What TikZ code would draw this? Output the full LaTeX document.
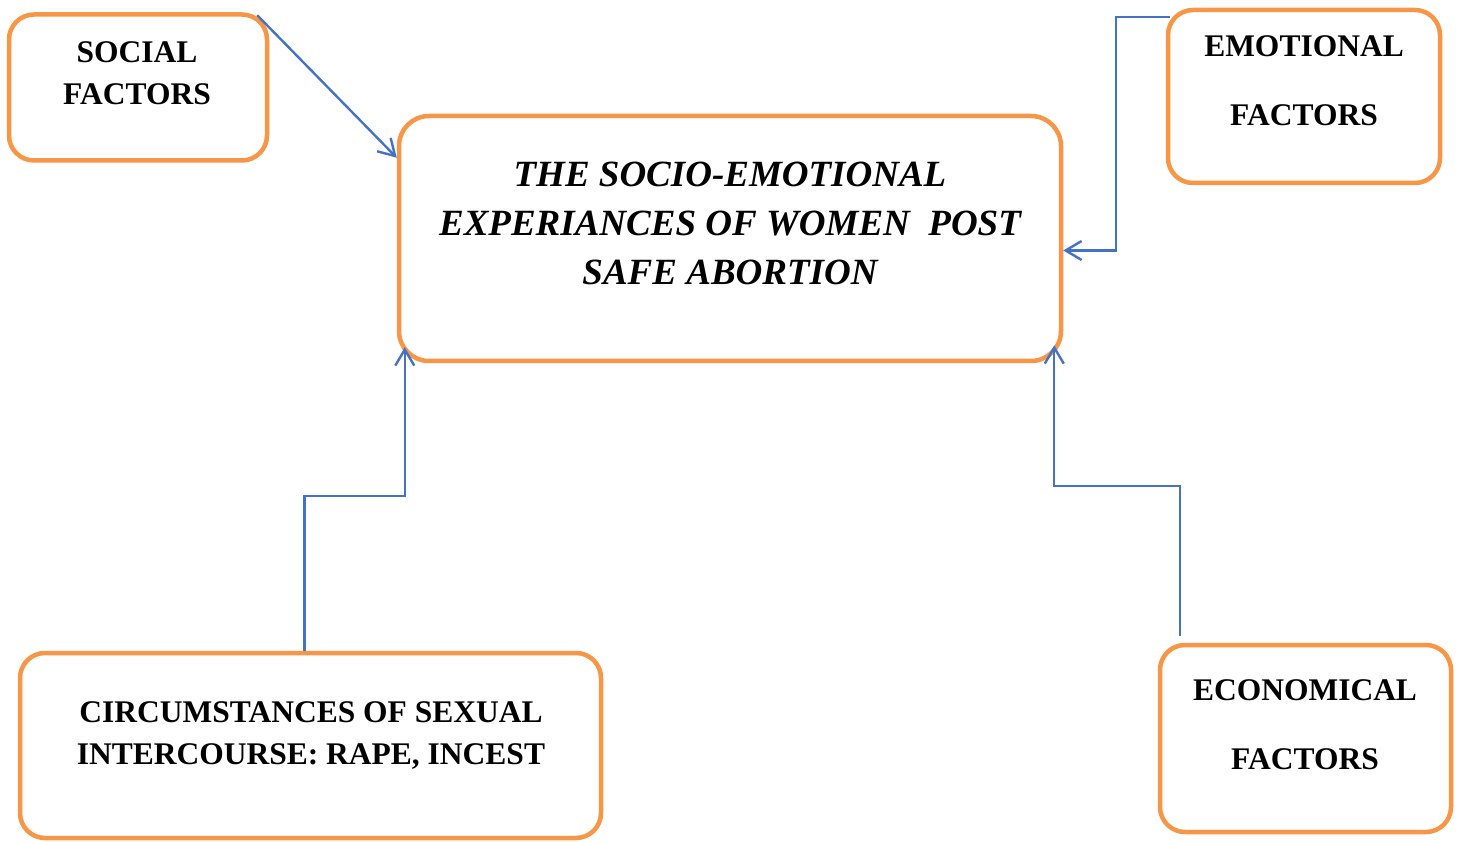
\documentclass[tikz,border=0pt]{standalone}
\usepackage{fontspec}
\setmainfont{Liberation Serif}
\usetikzlibrary{arrows.meta,positioning,calc}
\definecolor{boxorange}{HTML}{F79646}
\definecolor{linkblue}{HTML}{4472C4}

\begin{document}
\begin{tikzpicture}[x=1pt, y=-1pt,
    factor/.style={draw=boxorange, line width=4.5pt, rounded corners=25pt,
      inner sep=0, fill=white},
    boxtext/.style={align=center, inner sep=0,
      font=\fontsize{31.5}{42}\selectfont\bfseries},
    conn/.style={draw=linkblue, line width=2.4pt,
      -{Straight Barb[length=16pt, width=19pt]}}]
  \useasboundingbox (0,0) rectangle (1460,842);

  % boxes
  \node[factor, minimum width=662pt, minimum height=245pt, rounded corners=30pt] (main) at (730,238.5) {};
  \node[factor, minimum width=258pt, minimum height=146pt] (social) at (138,87.5) {};
  \node[factor, minimum width=272pt, minimum height=173pt] (emotional) at (1304,96.5) {};
  \node[factor, minimum width=581pt, minimum height=185pt] (circum) at (310.5,745.5) {};
  \node[factor, minimum width=291pt, minimum height=187pt] (econ) at (1305.5,738.5) {};

  % texts
  \node[boxtext, font=\fontsize{37}{49}\selectfont\bfseries\itshape] (maintext) at (730,223)
    {THE SOCIO-EMOTIONAL\\EXPERIANCES OF WOMEN~ POST\\SAFE ABORTION};
  \node[boxtext] (socialtext) at (137,73) {SOCIAL\\FACTORS};
  \node[boxtext, font=\fontsize{31.5}{69}\selectfont\bfseries] (emotionaltext) at (1304,80.5) {EMOTIONAL\\FACTORS};
  \node[boxtext] (circumtext) at (311,736) {CIRCUMSTANCES OF SEXUAL\\INTERCOURSE: RAPE, INCEST};
  \node[boxtext, font=\fontsize{31.5}{69}\selectfont\bfseries] (econtext) at (1305,724.5) {ECONOMICAL\\FACTORS};

  % connectors
  \draw[conn] ([xshift=-12,yshift=-3]social.north east) -- ([yshift=-44]main.north west);
  \draw[conn] ([xshift=4,yshift=-9]emotional.north west) -| ([xshift=53,yshift=-12]main.east)
    -- ([yshift=-12]main.east);
  \draw[conn] ([xshift=-6]circum.north) -- ++(0,-155) -| ([xshift=8,yshift=16]main.south west);
  \draw[conn] ([xshift=22,yshift=7]econ.north west) -- ++(0,-150) -| ([xshift=-9,yshift=18]main.south east);
\end{tikzpicture}
\end{document}
